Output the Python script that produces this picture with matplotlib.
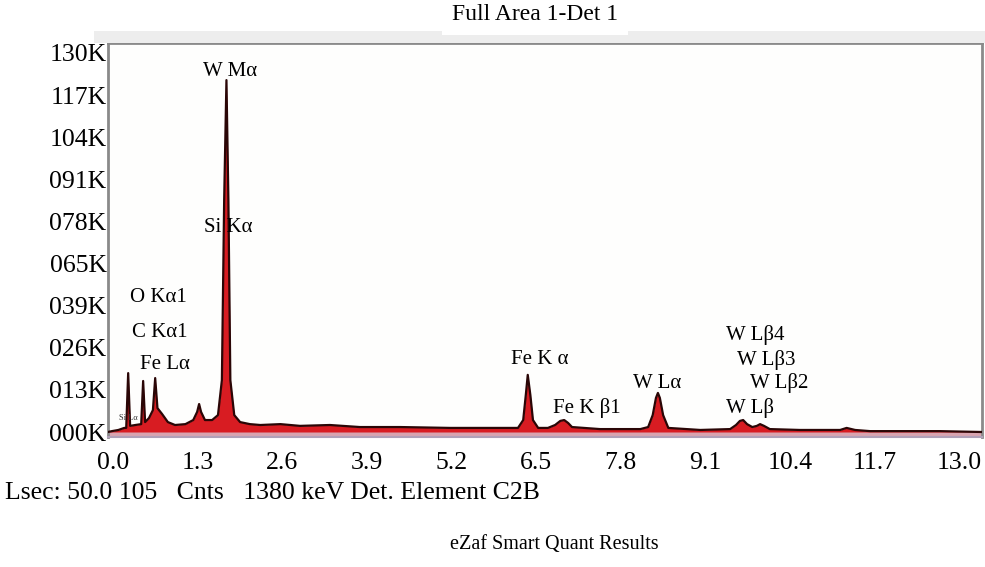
import matplotlib
matplotlib.use("Agg")
import matplotlib.pyplot as plt
from matplotlib.patches import Rectangle

plt.rcParams['font.family'] = ['Liberation Serif', 'DejaVu Serif']

# ---- spectrum (energy keV, counts) ----
energy_keV = [-0.08, -0.02, 0.08, 0.17, 0.20, 0.23, 0.26, 0.34, 0.43, 0.46, 0.49,
              0.55, 0.61, 0.645, 0.68, 0.75, 0.84, 0.95, 1.11, 1.23, 1.29, 1.32,
              1.35, 1.41, 1.52, 1.61, 1.67, 1.705, 1.74, 1.77, 1.80, 1.86, 1.95,
              2.10, 2.26, 2.57, 2.87, 3.33, 3.79, 4.41, 5.18, 5.94, 6.22, 6.30,
              6.34, 6.37, 6.41, 6.45, 6.53, 6.68, 6.79, 6.87, 6.93, 6.99, 7.05,
              7.48, 8.10, 8.22, 8.29, 8.34, 8.37, 8.40, 8.45, 8.53, 9.02, 9.48,
              9.57, 9.63, 9.68, 9.74, 9.82, 9.89, 9.94, 10.00, 10.09, 10.55,
              11.17, 11.27, 11.40, 11.63, 12.09, 12.70, 13.35]
counts = [0, 300, 700, 1400, 1400, 20200, 2100, 2400, 2700, 17500, 3400,
          4800, 7500, 18500, 8200, 6200, 3400, 2400, 2700, 4100, 6900, 9600,
          6900, 4100, 4100, 5800, 17800, 79600, 120700, 79600, 17800, 5800, 3400,
          2700, 2400, 2700, 2100, 2400, 1700, 1700, 1400, 1400, 1400, 4100,
          12700, 19600, 12700, 4100, 1400, 1400, 2400, 3800, 4100, 3100, 1700,
          1000, 1000, 1700, 5800, 11700, 13400, 11700, 5800, 1400, 700, 1000,
          2400, 3800, 4100, 2700, 1700, 2100, 2700, 2100, 1000, 700,
          700, 1400, 700, 300, 300, 300, 0]

# ---- axis labels ----
x_ticks = [0.0, 1.3, 2.6, 3.9, 5.2, 6.5, 7.8, 9.1, 10.4, 11.7, 13.0]
x_ticklabels = ["0.0", "1.3", "2.6", "3.9", "5.2", "6.5", "7.8", "9.1", "10.4", "11.7", "13.0"]
y_ticks = [0, 14444, 28889, 43333, 57778, 72222, 86667, 101111, 115556, 130000]
y_ticklabels = ["000K", "013K", "026K", "039K", "065K", "078K", "091K", "104K", "117K", "130K"]

# ---- peak labels ----
peak_labels = ["W M\u03b1", "Si K\u03b1", "O K\u03b11", "C K\u03b11", "Fe L\u03b1",
               "Fe K \u03b1", "Fe K \u03b21", "W L\u03b1", "W L\u03b24", "W L\u03b23",
               "W L\u03b22", "W L\u03b2"]
label_E = [1.80, 1.77, 0.69, 0.71, 0.80, 6.55, 7.28, 8.36, 9.86, 10.04, 10.23, 9.78]
label_cnt = [123500, 70000, 46300, 34300, 23000, 24700, 8200, 16800, 33300, 24700, 16800, 8200]

title = "Full Area 1-Det 1"
footer1 = "Lsec: 50.0 105   Cnts   1380 keV Det. Element C2B"
footer2 = "eZaf Smart Quant Results"

W, H = 985, 567
fig = plt.figure(figsize=(W / 100, H / 100), dpi=100)
fig.patch.set_facecolor('white')

L, R, T, B = 108, 982, 43, 437
ax = fig.add_axes([L / W, 1 - B / H, (R - L) / W, (B - T) / H])
ax.set_facecolor('#fefefd')

ax.set_xlim(-0.08, 13.35)
ax.set_ylim(-1715, 133430)

ax.axhspan(-1715, 0, color='#d8a4b0', lw=0, zorder=1)
ax.fill_between(energy_keV, counts, 0, color='#d81c22', lw=0, zorder=2)
ax.plot(energy_keV, counts, color='#2a0606', lw=1.6, zorder=3)

ax.set_xticks(x_ticks)
ax.set_xticklabels(x_ticklabels)
ax.set_yticks(y_ticks)
ax.set_yticklabels(y_ticklabels)
ax.tick_params(axis='x', length=0, labelsize=18.5, pad=11)
ax.tick_params(axis='y', length=0, labelsize=18.5, pad=1)

for s in ['left', 'top', 'right']:
    ax.spines[s].set_color('#8a8a8a')
    ax.spines[s].set_linewidth(2)
ax.spines['bottom'].set_color('#b0a0b8')
ax.spines['bottom'].set_linewidth(1.5)

for txt, e, c in zip(peak_labels, label_E, label_cnt):
    ax.text(e, c, txt, ha='center', va='center', fontsize=15, zorder=5)
ax.text(0.23, 4800, "Si L\u03b1", ha='center', va='center', fontsize=6, color='#333333', zorder=5)

# grey band above the frame
fig.patches.append(Rectangle((0.095, 1 - 43 / H), 0.905, 12 / H, transform=fig.transFigure,
                             color='#ededed', lw=0, zorder=0))
fig.text(535 / W, 1 - 15 / H, title, ha='center', va='center', fontsize=17,
         bbox=dict(facecolor='white', edgecolor='none', pad=7))
fig.text(5 / W, 1 - 493 / H, footer1, ha='left', va='center', fontsize=18.5)
fig.text(450 / W, 1 - 545 / H, footer2, ha='left', va='center', fontsize=14.5)

fig.savefig('out.png', dpi=100)
